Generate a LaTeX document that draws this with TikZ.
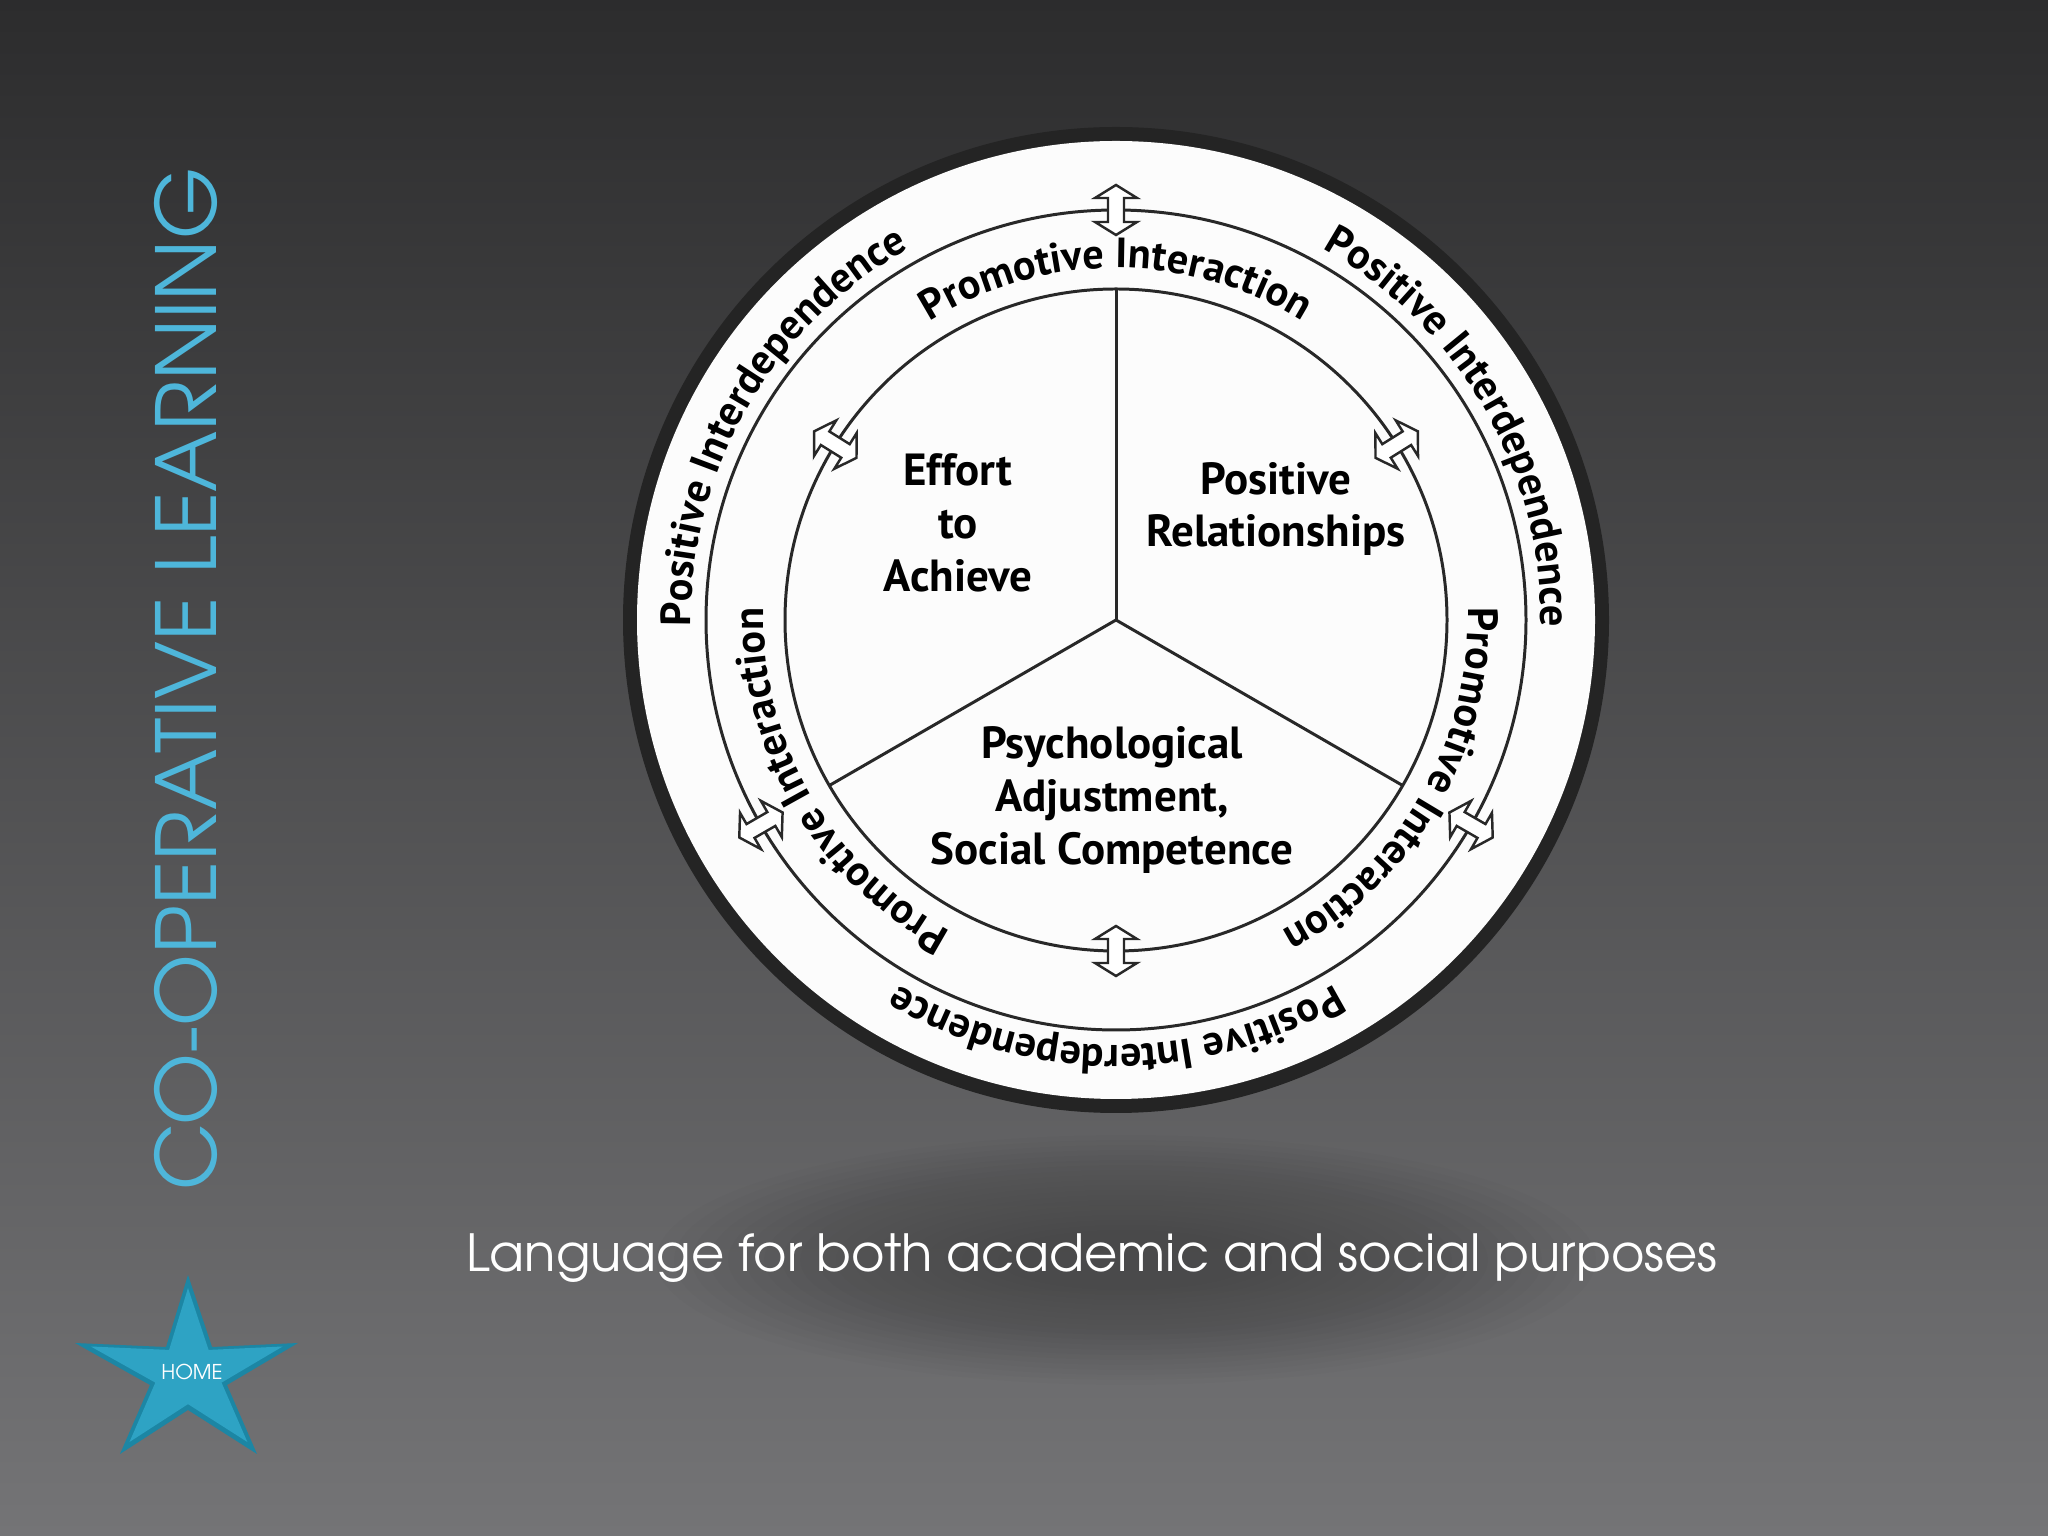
\documentclass[tikz,border=0pt]{standalone}
\usepackage{fontspec}
\usetikzlibrary{decorations.text,calc}
\newfontfamily\diagfont{PT Sans}
\newfontfamily\gothfont{TeX Gyre Adventor}
\definecolor{bgtop}{RGB}{44,44,45}
\definecolor{bgbot}{RGB}{116,116,118}
\definecolor{titleblue}{RGB}{78,182,218}
\definecolor{starfill}{RGB}{46,163,196}
\definecolor{starline}{RGB}{28,134,164}
\definecolor{ringdark}{RGB}{36,36,36}
\definecolor{diskwhite}{RGB}{252,252,252}
\definecolor{ink}{RGB}{40,40,40}
\newcommand\RingFont{\diagfont\bfseries\fontsize{12}{12}\selectfont}
\newcommand\SecFont{\diagfont\bfseries\fontsize{12.8}{15}\selectfont}
\tikzset{
  ringline/.style={draw=ink, line width=0.85pt},
  dblarrow/.style={draw=ink, fill=white, line width=0.7pt, line join=miter},
  sectorlabel/.style={align=center, font=\SecFont, text=black, inner sep=0pt},
}
\begin{document}
\begin{tikzpicture}[x=0.01cm,y=0.01cm]
\useasboundingbox (0,0) rectangle (2048,1536);
% background
\shade[top color=bgtop, bottom color=bgbot] (0,0) rectangle (2048,1536);
% soft shadow below the disk
\foreach \i in {0,...,19} {
  \fill[black, opacity=0.013] (1126,276) ellipse [x radius={470-\i*18}, y radius={125-\i*5}];
}
% title
\node[rotate=90, font=\gothfont\fontsize{23.5}{24}\selectfont, text=titleblue, inner sep=0pt] (title) at (186,857) {CO-OPERATIVE LEARNING};
% subtitle
\node[anchor=base, font=\gothfont\fontsize{14.55}{18}\selectfont, text=white, inner sep=0pt] (subtitle) at (1092,264) {Language for both academic and social purposes};
% star
\fill[starline] (188,261) -- (212,189) -- (298,193) -- (227,151) -- (257,82) -- (188,126) -- (120,82) -- (150,151) -- (75,193) -- (166,189) -- cycle;
\fill[starfill, scale around={0.86:(188,168)}] (188,261) -- (212,189) -- (298,193) -- (227,151) -- (257,82) -- (188,126) -- (120,82) -- (150,151) -- (75,193) -- (166,189) -- cycle;
\node[anchor=base, font=\gothfont\fontsize{5.8}{7}\selectfont, text=white, inner sep=0pt] (home) at (192,156) {HOME};
% disk
\coordinate (C) at (1116,916);
\fill[ringdark] (C) circle [radius=493];
\fill[diskwhite] (C) circle [radius=479];
\draw[ringline] (C) circle [radius=410];
\draw[ringline] (C) circle [radius=331];
\draw[ringline] (C) -- ++(90:331);
\draw[ringline] (C) -- ++(-30:331);
\draw[ringline] (C) -- ++(210:331);
% ring texts
\begin{scope}[shift={(1116,916)}]
\foreach \a in {90,-30,210} {
  \path[decorate, decoration={text along path, text={|\RingFont|Promotive Interaction}, text align=center}]
    ({\a+50}:352) arc [start angle={\a+50}, end angle={\a-50}, radius=352];
}
\foreach \a in {150,30,-90} {
  \path[decorate, decoration={text along path, text={|\RingFont|Positive Interdependence}, text align=center}]
    ({\a+55}:425) arc [start angle={\a+55}, end angle={\a-55}, radius=425];
}
\end{scope}
% double arrows
\foreach \a/\r in {90/410, 210/410, 330/410, 32/331, 148/331, 270/331} {
  \begin{scope}[shift={(1116,916)}, rotate=\a, shift={(\r,0)}]
    \draw[dblarrow] (-25,0) -- (-12,21) -- (-12,8) -- (12,8) -- (12,21) -- (25,0) -- (12,-21) -- (12,-8) -- (-12,-8) -- (-12,-21) -- cycle;
  \end{scope}
}
% sector labels
\node[sectorlabel] (effort) at (958,1013) {Effort\\to\\Achieve};
\node[sectorlabel] (posrel) at (1276,1027) {Positive\\Relationships};
\node[sectorlabel] (psych) at (1112,736) {Psychological\\Adjustment,\\Social Competence};
\end{tikzpicture}
\end{document}
